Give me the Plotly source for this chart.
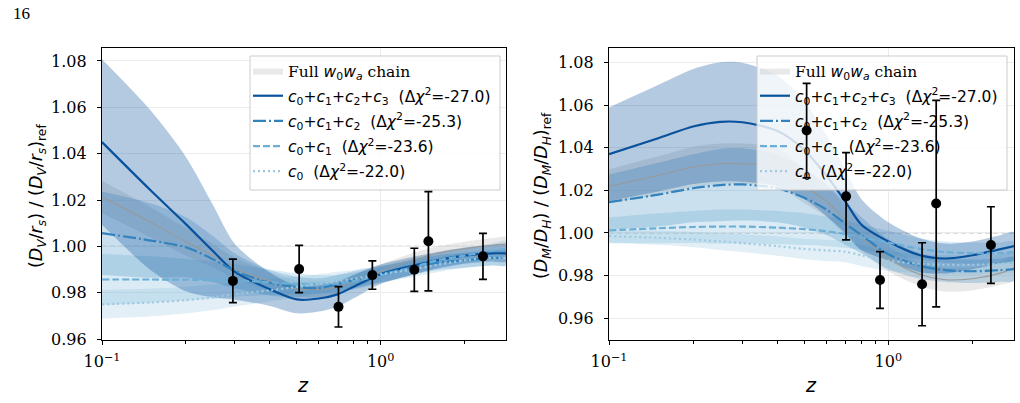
import plotly.graph_objects as go

# ---------------- data ----------------
ZG = [0.1, 0.15, 0.2, 0.25, 0.3, 0.4, 0.5, 0.6, 0.7, 0.8, 1.0, 1.3, 1.6, 2.0, 2.5, 2.83]

# left panel: (D_V/r_s)/(D_V/r_s)_ref
L_gray = [1.0213, 1.0103, 1.002, 0.996, 0.9905, 0.985, 0.9816, 0.9815, 0.9825, 0.985, 0.9893, 0.994, 0.997, 0.999, 1.0005, 1.001]
L_c3 = [1.045, 1.024, 1.0096, 0.998, 0.989, 0.9815, 0.9771, 0.9775, 0.9793, 0.9826, 0.988, 0.9916, 0.994, 0.996, 0.997, 0.997]
L_c2 = [1.0057, 1.0025, 0.9996, 0.9945, 0.9894, 0.9843, 0.9824, 0.982, 0.9837, 0.9855, 0.988, 0.991, 0.993, 0.994, 0.995, 0.995]
L_c1 = [0.9857, 0.9857, 0.9856, 0.9855, 0.9853, 0.9845, 0.9838, 0.9836, 0.984, 0.985, 0.9875, 0.991, 0.994, 0.996, 0.998, 0.999]
L_c0 = [0.975, 0.9758, 0.9768, 0.978, 0.9793, 0.981, 0.9825, 0.9838, 0.985, 0.986, 0.988, 0.990, 0.992, 0.994, 0.995, 0.995]
L_gray_hw = [0.007, 0.0065, 0.006, 0.005, 0.0045, 0.004, 0.0035, 0.0033, 0.003, 0.003, 0.003, 0.003, 0.003, 0.003, 0.003, 0.003]
L_c3_hw = [0.0357, 0.0344, 0.029, 0.020, 0.012, 0.0072, 0.006, 0.0056, 0.0053, 0.005, 0.0042, 0.0038, 0.0036, 0.0035, 0.0035, 0.0035]
L_c2_hw = [0.018, 0.016, 0.013, 0.010, 0.0075, 0.0055, 0.0045, 0.0042, 0.004, 0.0038, 0.0035, 0.0033, 0.0032, 0.0032, 0.0032, 0.0032]
L_c1_hw = [0.011, 0.010, 0.009, 0.008, 0.007, 0.0055, 0.0045, 0.004, 0.0038, 0.0036, 0.0034, 0.0033, 0.0032, 0.0032, 0.0032, 0.0032]
L_c0_hw = [0.0062, 0.006, 0.0058, 0.0055, 0.0052, 0.0048, 0.0045, 0.0042, 0.004, 0.0038, 0.0035, 0.0033, 0.0032, 0.0032, 0.0032, 0.0032]

# right panel: (D_M/D_H)/(D_M/D_H)_ref
R_gray = [1.0219, 1.027, 1.031, 1.0325, 1.0325, 1.031, 1.022, 1.015, 1.006, 0.998, 0.988, 0.9805, 0.978, 0.9785, 0.981, 0.9837]
R_c3 = [1.037, 1.0445, 1.050, 1.0522, 1.052, 1.048, 1.039, 1.027, 1.015, 1.004, 0.996, 0.9895, 0.988, 0.9895, 0.9923, 0.9938]
R_c2 = [1.0145, 1.018, 1.021, 1.0225, 1.0228, 1.021, 1.0165, 1.011, 1.0045, 0.999, 0.990, 0.9845, 0.9825, 0.982, 0.9825, 0.983]
R_c1 = [1.0012, 1.0022, 1.0028, 1.003, 1.003, 1.0025, 1.0018, 1.0008, 0.9995, 0.998, 0.9955, 0.9925, 0.991, 0.9905, 0.9905, 0.991]
R_c0 = [0.9985, 0.9977, 0.9969, 0.996, 0.9952, 0.9938, 0.9925, 0.9918, 0.9912, 0.9895, 0.987, 0.9855, 0.985, 0.985, 0.9855, 0.986]
R_gray_hw = [0.008, 0.009, 0.0095, 0.0095, 0.0095, 0.009, 0.008, 0.0075, 0.007, 0.0065, 0.006, 0.0055, 0.0055, 0.0055, 0.0055, 0.0055]
R_c3_hw = [0.022, 0.025, 0.027, 0.028, 0.028, 0.026, 0.023, 0.019, 0.015, 0.012, 0.009, 0.008, 0.007, 0.0065, 0.0065, 0.0065]
R_c2_hw = [0.013, 0.015, 0.016, 0.017, 0.017, 0.016, 0.014, 0.012, 0.010, 0.0085, 0.007, 0.006, 0.0055, 0.0055, 0.0055, 0.0055]
R_c1_hw = [0.006, 0.007, 0.0075, 0.008, 0.008, 0.0078, 0.0075, 0.007, 0.0065, 0.006, 0.0055, 0.005, 0.005, 0.005, 0.005, 0.005]
R_c0_hw = [0.003, 0.0033, 0.0036, 0.004, 0.0042, 0.0045, 0.0048, 0.005, 0.005, 0.005, 0.0048, 0.0046, 0.0045, 0.0045, 0.0045, 0.0045]

# measurements
DV_z = [0.295, 0.51, 0.706, 0.934, 1.321, 1.484, 2.33]
DV_val = [0.9851, 0.9902, 0.9739, 0.9876, 0.9899, 1.0022, 0.9957]
DV_err = [0.0094, 0.0102, 0.0087, 0.0061, 0.0093, 0.0214, 0.0099]
DM_z = [0.51, 0.706, 0.934, 1.321, 1.484, 2.33]
DM_val = [1.0481, 1.0172, 0.9779, 0.9759, 1.0138, 0.9943]
DM_err = [0.0222, 0.0205, 0.0133, 0.0195, 0.0485, 0.0180]

SP = "\u00a0\u00a0"
LABELS = [
    "<span style='font-family:DejaVu Serif'>Full </span><i>w</i><sub>0</sub><i>w</i><sub><i>a</i></sub><span style='font-family:DejaVu Serif'> chain</span>",
    "<i>c</i><sub>0</sub>+<i>c</i><sub>1</sub>+<i>c</i><sub>2</sub>+<i>c</i><sub>3</sub>" + SP + "(Δ<i>χ</i><sup>2</sup>=-27.0)",
    "<i>c</i><sub>0</sub>+<i>c</i><sub>1</sub>+<i>c</i><sub>2</sub>" + SP + "(Δ<i>χ</i><sup>2</sup>=-25.3)",
    "<i>c</i><sub>0</sub>+<i>c</i><sub>1</sub>" + SP + "(Δ<i>χ</i><sup>2</sup>=-23.6)",
    "<i>c</i><sub>0</sub>" + SP + "(Δ<i>χ</i><sup>2</sup>=-22.0)",
]

# ---------------- styles / geometry ----------------
COLORS = {"c3": "#08519c", "c2": "#3182bd", "c1": "#6baed6", "c0": "#9ecae1"}
BAND = {"c3": "rgba(8,81,156,0.30)", "c2": "rgba(49,130,189,0.25)",
        "c1": "rgba(107,174,214,0.25)", "c0": "rgba(158,202,225,0.30)"}
DASH = {"c3": "solid", "c2": "13px,3px,2px,3px", "c1": "7px,3px", "c0": "2px,3px"}
GRAY_BAND = "rgba(200,200,200,0.40)"

W, H = 1020, 403
PT, PB = 48, 340                       # plot top / bottom (px)
PX1 = (102, 506)                       # left panel x (px)
PX2 = (609, 1014)                      # right panel x (px)
XR = [-1, 0.45]                        # log10 x range
YR1 = [0.9596, 1.0856]
YR2 = [0.9497, 1.0869]
LEG1 = (250, 500, 56, 190)             # legend box px (x0, x1, y0, y1)
LEG2 = (757, 1007, 56, 190)

fig = go.Figure()


def px_to_data(px, py, pxr, yr):
    lx = XR[0] + (px - pxr[0]) / (pxr[1] - pxr[0]) * (XR[1] - XR[0])
    y = yr[1] - (py - PT) / (PB - PT) * (yr[1] - yr[0])
    return 10 ** lx, y


def band(x, c, hw, color, xa, ya, name=None, legend=None, showlegend=False, lg=None):
    up = [a + b for a, b in zip(c, hw)]
    lo = [a - b for a, b in zip(c, hw)]
    fig.add_trace(go.Scatter(
        x=list(x) + list(x)[::-1], y=up + lo[::-1], fill="toself", fillcolor=color,
        line=dict(width=0, shape="spline", smoothing=0.8), mode="lines",
        hoverinfo="skip", name=name, showlegend=showlegend, legend=legend,
        legendgroup=lg, xaxis=xa, yaxis=ya))


def panel(xa, ya, legend, pxr, yr, leg, gray, gray_hw, curves, hws, mz, mv, me):
    band(ZG, gray, gray_hw, GRAY_BAND, xa, ya, name=LABELS[0], legend=legend,
         showlegend=True, lg=legend + "g0")
    for k in ["c0", "c1", "c2", "c3"]:
        band(ZG, curves[k], hws[k], BAND[k], xa, ya)
    fig.add_trace(go.Scatter(x=ZG, y=gray, mode="lines",
                             line=dict(color="#999999", width=1.1, shape="spline", smoothing=0.8),
                             showlegend=False, hoverinfo="skip", xaxis=xa, yaxis=ya))
    for i, k in enumerate(["c3", "c2", "c1", "c0"]):
        fig.add_trace(go.Scatter(x=ZG, y=curves[k], mode="lines", name=LABELS[i + 1],
                                 line=dict(color=COLORS[k], width=2.2, dash=DASH[k],
                                           shape="spline", smoothing=0.8),
                                 legend=legend, legendgroup=legend + "g" + str(i + 1),
                                 xaxis=xa, yaxis=ya))
    # legend box (drawn under the measurements, over the curves)
    x0, y0 = px_to_data(leg[0], leg[2], pxr, yr)
    x1, y1 = px_to_data(leg[1], leg[3], pxr, yr)
    fig.add_trace(go.Scatter(x=[x0, x1, x1, x0, x0], y=[y0, y0, y1, y1, y0], mode="lines",
                             fill="toself", fillcolor="rgba(255,255,255,0.8)",
                             line=dict(color="#cccccc", width=1), showlegend=False,
                             hoverinfo="skip", xaxis=xa, yaxis=ya))
    fig.add_trace(go.Scatter(x=mz, y=mv, mode="markers",
                             marker=dict(color="black", size=10),
                             error_y=dict(type="data", array=me, color="black", thickness=1.7, width=4),
                             showlegend=False, xaxis=xa, yaxis=ya))


panel("x", "y", "legend", PX1, YR1, LEG1, L_gray, L_gray_hw,
      {"c3": L_c3, "c2": L_c2, "c1": L_c1, "c0": L_c0},
      {"c3": L_c3_hw, "c2": L_c2_hw, "c1": L_c1_hw, "c0": L_c0_hw},
      DV_z, DV_val, DV_err)
panel("x2", "y2", "legend2", PX2, YR2, LEG2, R_gray, R_gray_hw,
      {"c3": R_c3, "c2": R_c2, "c1": R_c1, "c0": R_c0},
      {"c3": R_c3_hw, "c2": R_c2_hw, "c1": R_c1_hw, "c0": R_c0_hw},
      DM_z, DM_val, DM_err)

YD = [1 - PB / H, 1 - PT / H]
XD1 = [PX1[0] / W, PX1[1] / W]
XD2 = [PX2[0] / W, PX2[1] / W]

XTV = [0.1, 1]
XTT = ["10<sup>−1</sup>", "10<sup>0</sup>"]
XMINOR = [0.2, 0.3, 0.4, 0.5, 0.6, 0.7, 0.8, 0.9, 2]
YTV = [0.96, 0.98, 1.00, 1.02, 1.04, 1.06, 1.08]

tickfont = dict(family="DejaVu Serif", size=16, color="black")


def xaxis(dom, anchor):
    return dict(type="log", domain=dom, anchor=anchor, range=XR, automargin=False,
                tickmode="array", tickvals=XTV, ticktext=XTT, ticks="outside",
                ticklen=4, tickwidth=1, tickcolor="black", tickfont=tickfont,
                ticklabelstandoff=3,
                showline=True, linecolor="black", linewidth=1.2, mirror=True,
                showgrid=True, gridcolor="#ebebeb", gridwidth=1, zeroline=False,
                minor=dict(tickmode="array", tickvals=XMINOR, ticks="outside",
                           ticklen=2.5, tickwidth=0.8, tickcolor="black", showgrid=False))


def yaxis(dom, anchor, rng):
    return dict(domain=dom, anchor=anchor, range=rng, tickmode="array", automargin=False,
                tickvals=YTV, ticktext=["%.2f" % v for v in YTV], ticks="outside",
                ticklen=4, tickwidth=1, tickcolor="black", tickfont=tickfont,
                ticklabelstandoff=7,
                showline=True, linecolor="black", linewidth=1.2, mirror=True,
                showgrid=True, gridcolor="#ebebeb", gridwidth=1, zeroline=False)


legend_common = dict(bgcolor="rgba(0,0,0,0)", borderwidth=0,
                     font=dict(family="DejaVu Sans", size=15.5, color="black"),
                     xanchor="left", yanchor="top", traceorder="grouped",
                     tracegroupgap=2, itemwidth=30)

fig.update_layout(
    width=W, height=H, margin=dict(l=0, r=0, t=0, b=0, autoexpand=False),
    paper_bgcolor="white", plot_bgcolor="white", showlegend=True,
    xaxis=xaxis(XD1, "y"), yaxis=yaxis(YD, "x", YR1),
    xaxis2=xaxis(XD2, "y2"), yaxis2=yaxis(YD, "x2", YR2),
    legend=dict(x=(LEG1[0] - 2) / W, y=1 - (LEG1[2] - 2) / H, **legend_common),
    legend2=dict(x=(LEG2[0] - 2) / W, y=1 - (LEG2[2] - 2) / H, **legend_common),
    shapes=[
        dict(type="line", xref="x domain", yref="y", x0=0, x1=1, y0=1.0, y1=1.0,
             line=dict(color="#b5b5b5", width=1.1, dash="5px,3px"), layer="below"),
        dict(type="line", xref="x2 domain", yref="y2", x0=0, x1=1, y0=1.0, y1=1.0,
             line=dict(color="#b5b5b5", width=1.1, dash="5px,3px"), layer="below"),
    ],
    annotations=[
        dict(text="16", x=11 / W, y=1 - 14 / H, xref="paper", yref="paper", showarrow=False,
             xanchor="left", yanchor="middle", font=dict(family="Liberation Serif", size=17, color="black")),
        dict(text="(<i>D</i><sub><i>V</i></sub>/<i>r</i><sub><i>s</i></sub>) / (<i>D</i><sub><i>V</i></sub>/<i>r</i><sub><i>s</i></sub>)<sub>ref</sub>",
             x=38 / W, y=1 - 196 / H, xref="paper", yref="paper", showarrow=False, textangle=-90,
             xanchor="center", yanchor="middle", font=dict(family="DejaVu Sans", size=17.5, color="black")),
        dict(text="(<i>D</i><sub><i>M</i></sub>/<i>D</i><sub><i>H</i></sub>) / (<i>D</i><sub><i>M</i></sub>/<i>D</i><sub><i>H</i></sub>)<sub>ref</sub>",
             x=543 / W, y=1 - 196 / H, xref="paper", yref="paper", showarrow=False, textangle=-90,
             xanchor="center", yanchor="middle", font=dict(family="DejaVu Sans", size=17.5, color="black")),
        dict(text="<i>z</i>", x=303 / W, y=1 - 385 / H, xref="paper", yref="paper", showarrow=False,
             xanchor="center", yanchor="middle", font=dict(family="DejaVu Sans", size=19, color="black")),
        dict(text="<i>z</i>", x=811 / W, y=1 - 385 / H, xref="paper", yref="paper", showarrow=False,
             xanchor="center", yanchor="middle", font=dict(family="DejaVu Sans", size=19, color="black")),
    ],
)

fig.write_html("out.html")
